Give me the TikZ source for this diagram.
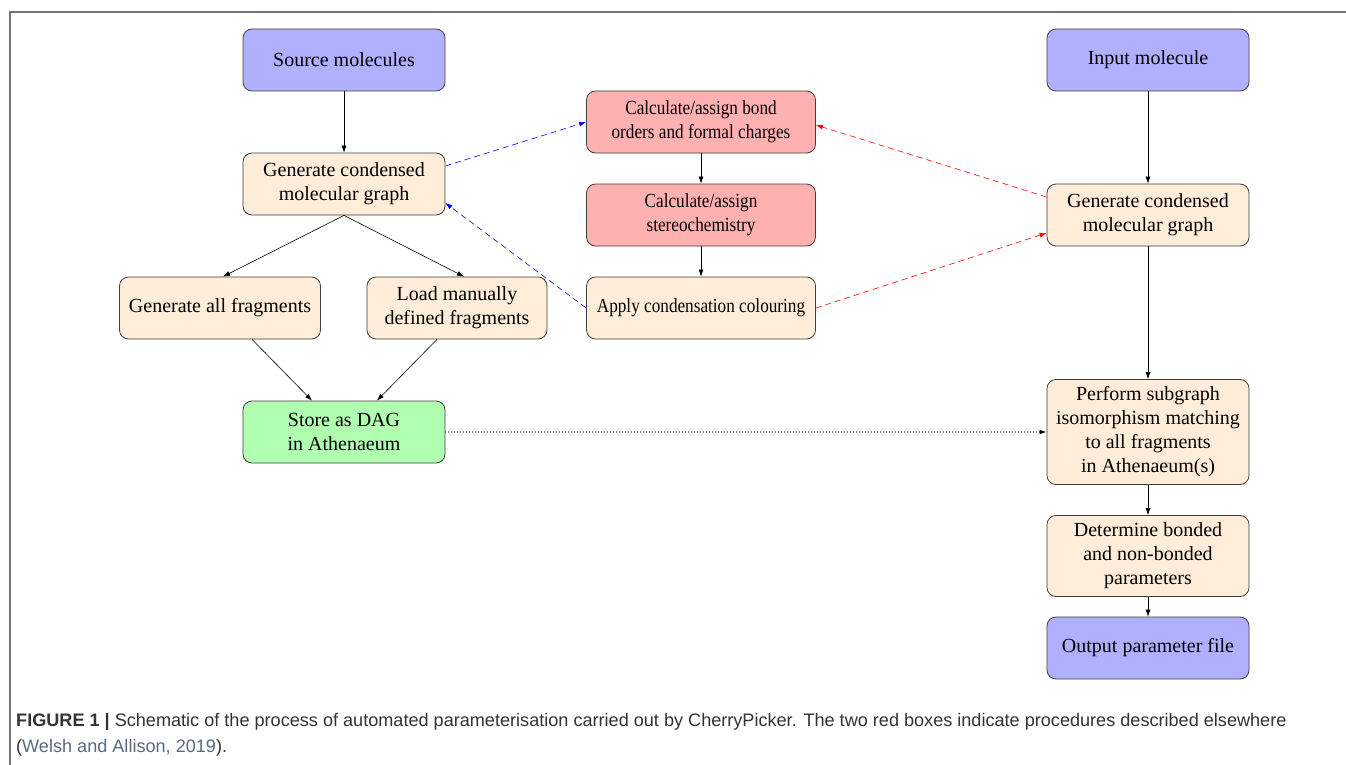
\documentclass[tikz,border=0pt]{standalone}
\usepackage{fontspec}
\setmainfont{Liberation Serif}
\newfontfamily\condserif{Liberation Serif}[FakeStretch=0.86]
\newfontfamily\capfont{Liberation Sans}
\usetikzlibrary{arrows.meta,calc}
\definecolor{capgray}{RGB}{51,51,51}
\definecolor{citeblue}{RGB}{90,105,130}
\begin{document}
\begin{tikzpicture}[x=1pt,y=-1pt,
  box/.style={draw=black!75, line width=0.8pt, rounded corners=9pt, minimum width=202pt, minimum height=62pt,
    align=center, inner sep=2pt, font=\fontsize{20}{24}\selectfont},
  bluebox/.style={box, fill=blue!31},
  peachbox/.style={box, fill=orange!15},
  midbox/.style={minimum width=229pt, font=\condserif\fontsize{20}{24}\selectfont},
  redbox/.style={box, fill=red!31, midbox},
  greenbox/.style={box, fill=green!31},
  arr/.style={-{Latex[length=7pt,width=5pt]}, line width=0.6pt, black},
  bluearr/.style={arr, blue, dash pattern=on 6pt off 4pt},
  redarr/.style={arr, red, dash pattern=on 6pt off 4pt},
  dotarr/.style={-{Latex[length=7pt,width=5pt,black]}, line width=1.3pt, black!55, dash pattern=on 0.8pt off 2.2pt}
]
\useasboundingbox (0,0) rectangle (1346,765);
\fill[white] (0,0) rectangle (1346,765);
\draw[black!55, line width=1.5pt] (1346,12) -- (10,12) -- (10,765);

% left column
\node[bluebox] (src) at (344,60) {Source molecules};
\node[peachbox] (gcl) at (344,184) {Generate condensed\\molecular graph};
\node[peachbox, minimum width=201pt] (gaf) at (220,308) {Generate all fragments};
\node[peachbox, minimum width=180pt] (lmd) at (457,308) {Load manually\\defined fragments};
\node[greenbox] (dag) at (344,432) {Store as DAG\\in Athenaeum};

% middle column
\node[redbox] (bond) at (701,122) {Calculate/assign bond\\orders and formal charges};
\node[redbox] (stereo) at (701,215) {Calculate/assign\\stereochemistry};
\node[peachbox, midbox] (col) at (701,308) {Apply condensation colouring};

% right column
\node[bluebox] (inp) at (1148,60) {Input molecule};
\node[peachbox] (gcr) at (1148,215) {Generate condensed\\molecular graph};
\node[peachbox, minimum height=105pt] (sub) at (1148,432) {Perform subgraph\\isomorphism matching\\to all fragments\\in Athenaeum(s)};
\node[peachbox, minimum height=81pt] (det) at (1148,556) {Determine bonded\\and non-bonded\\parameters};
\node[bluebox] (out) at (1148,648) {Output parameter file};

% black arrows
\draw[arr] (src) -- (gcl);
\draw[arr] (gcl.south) -- ([xshift=3pt]gaf.north);
\draw[arr] (gcl.south) -- ([xshift=7pt]lmd.north);
\draw[arr] ([xshift=32pt]gaf.south) -- ([xshift=-32pt]dag.north);
\draw[arr] ([xshift=-20pt]lmd.south) -- ([xshift=33pt]dag.north);
\draw[arr] (bond) -- (stereo);
\draw[arr] (stereo) -- (col);
\draw[arr] (inp) -- (gcr);
\draw[arr] (gcr) -- (sub);
\draw[arr] (sub) -- (det);
\draw[arr] (det) -- (out);

% dashed feedback arrows
\draw[bluearr] ([yshift=18pt]gcl.east) -- (bond.west);
\draw[bluearr] (col.west) -- ([yshift=-19pt]gcl.east);
\draw[redarr] ([yshift=18pt]gcr.west) -- ([yshift=-3pt]bond.east);
\draw[redarr] (col.east) -- ([yshift=-18pt]gcr.west);

% dotted
\draw[dotarr] (dag.east) -- (sub.west);

% caption
\node[anchor=north west, align=left, inner sep=0pt, text=capgray,
      font=\capfont\fontsize{18.1}{26}\selectfont] (cap) at (16,713)
  {\textbf{FIGURE 1 |} Schematic of the process of automated parameterisation carried out by CherryPicker. The two red boxes indicate procedures described elsewhere\\
   ({\color{citeblue}Welsh and Allison, 2019}).};
\end{tikzpicture}
\end{document}
